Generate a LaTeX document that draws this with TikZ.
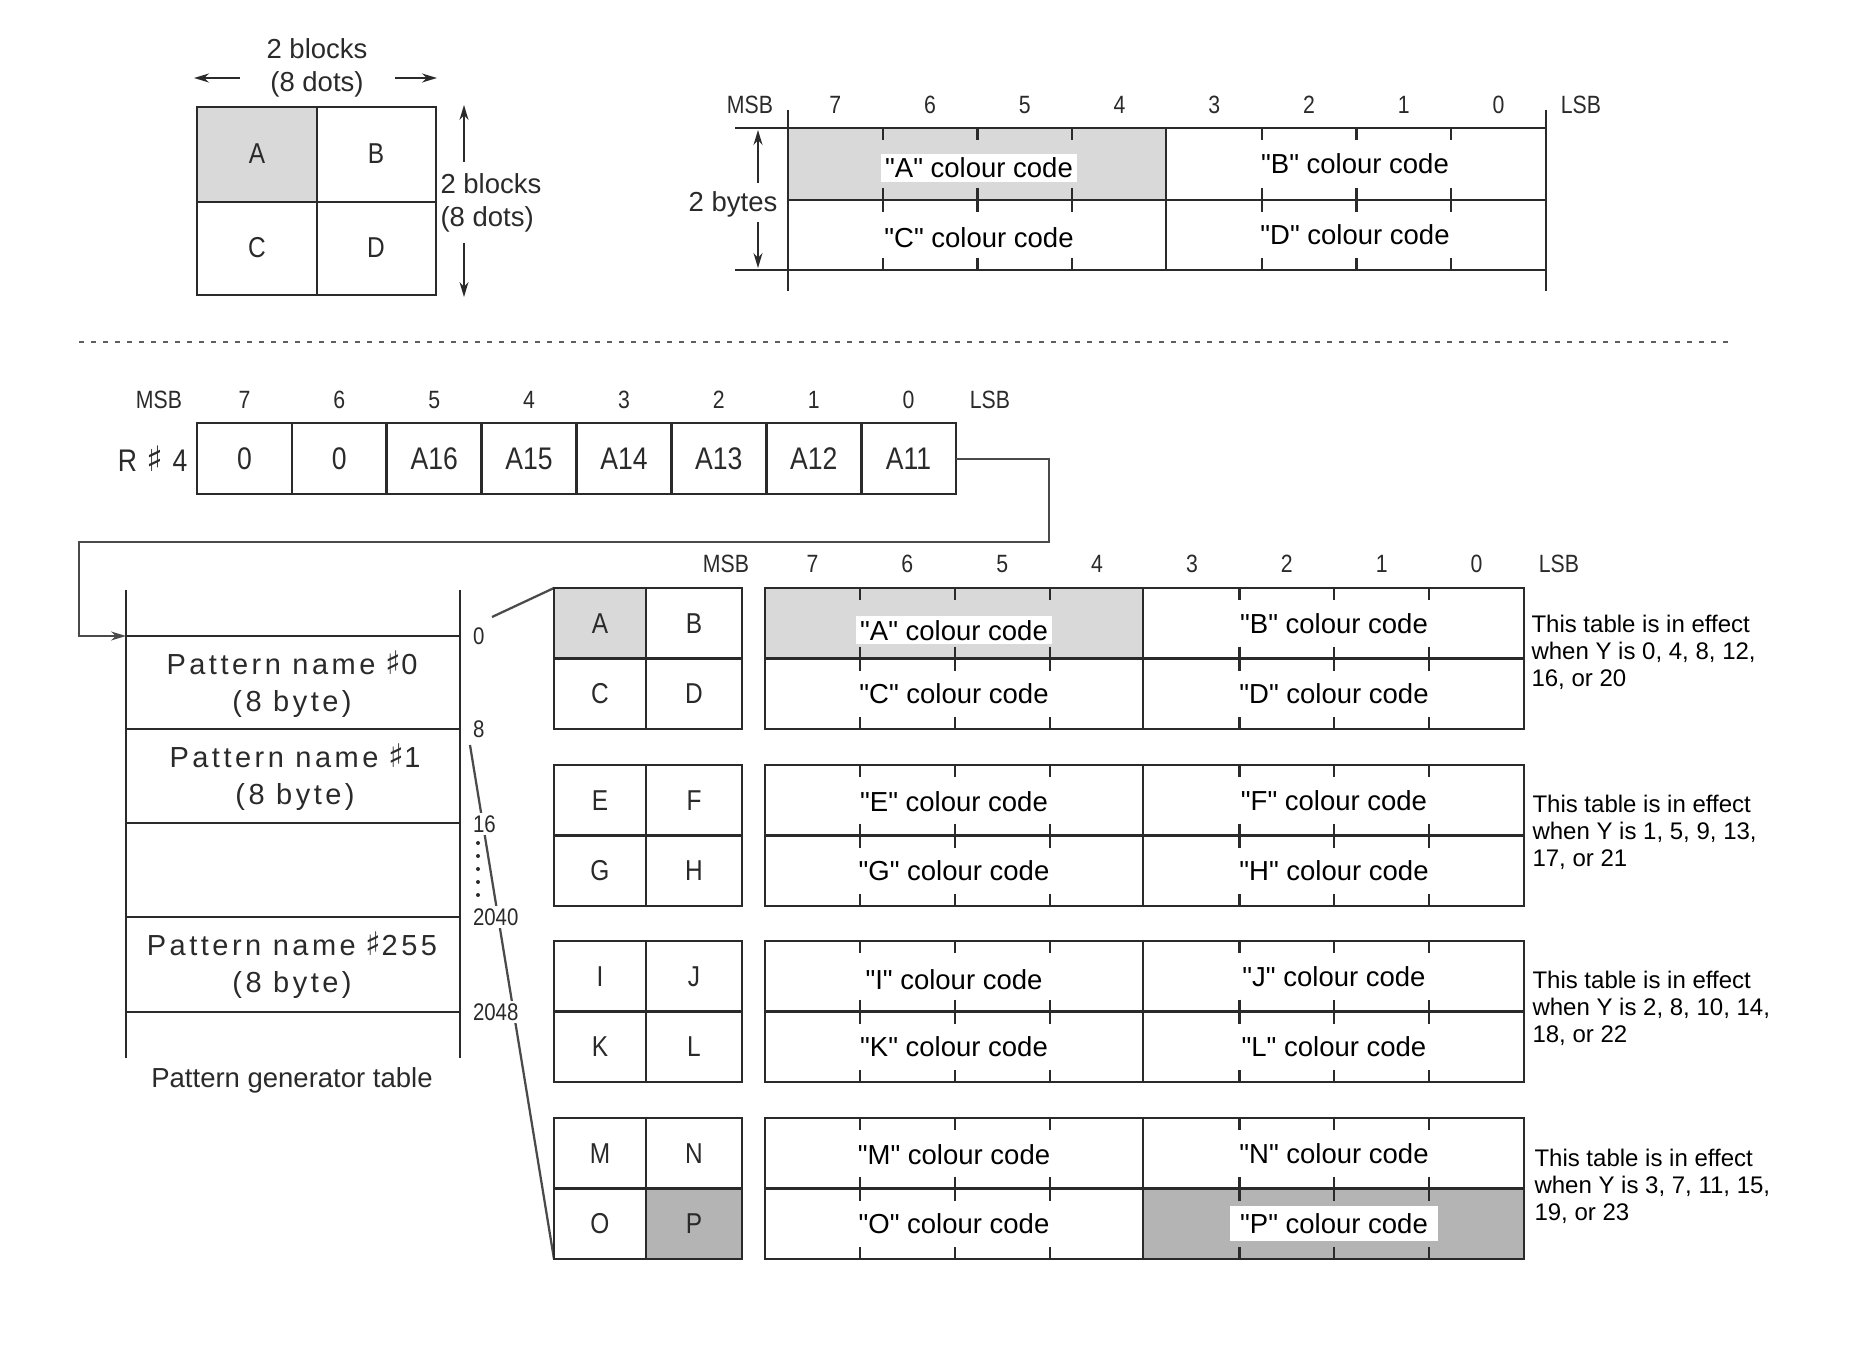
\documentclass[tikz,border=0pt]{standalone}
\usepackage{fontspec}
\setmainfont{Liberation Sans}
\newfontfamily\plainf{Liberation Sans}
\newfontfamily\scanf[FakeStretch=0.85]{Liberation Sans}
\newfontfamily\patf[LetterSpace=12]{Liberation Sans}
\newfontfamily\symf{DejaVu Sans}
\newcommand\mysharp{{\symf ♯}}
\usetikzlibrary{arrows.meta}
\definecolor{ink}{HTML}{2A2A2A}
\definecolor{shadelight}{HTML}{D9D9D9}
\definecolor{shadedark}{HTML}{B4B4B4}
\tikzset{
 tbl/.style={draw=ink, line width=1.1pt},
 tck/.style={draw=ink, line width=0.9pt},
 conn/.style={draw=ink!85, line width=0.7pt},
 dimarr/.style={draw=ink, line width=0.7pt, -{Stealth[length=6pt,width=3.6pt]}},
 ann/.style={font=\plainf\fontsize{11}{13.2}\selectfont, inner sep=0pt, text=ink},
 side/.style={font=\plainf\fontsize{9.6}{10.8}\selectfont, align=left, anchor=west, inner sep=0pt},
 hdr/.style={font=\scanf\fontsize{10}{12}\selectfont, inner sep=0pt, text=ink},
 cell/.style={font=\scanf\fontsize{11.5}{13}\selectfont, inner sep=0pt, text=ink},
 reg/.style={font=\scanf\fontsize{12.5}{14}\selectfont, inner sep=0pt, text=ink},
 pat/.style={font=\patf\fontsize{11.6}{14.8}\selectfont, align=center, inner sep=0pt, text=ink},
 addr/.style={font=\scanf\fontsize{9.6}{11}\selectfont, anchor=west, inner sep=1pt, fill=white, text=ink},
 cc/.style={font=\plainf\fontsize{11}{13.2}\selectfont, inner sep=1.5pt, fill=white},
 sepl/.style={draw=ink!75, line width=0.9pt, dash pattern=on 2pt off 2.8pt},
}
\begin{document}
\begin{tikzpicture}[x=0.4pt,y=-0.4pt]
\useasboundingbox (0,0) rectangle (1849,1372);

% ---------- top-left 2x2 block
\fill[shadelight] (197,107) rectangle (317,202);
\draw[tbl] (197,107) rectangle (436,295) (317,107) -- (317,295) (197,202) -- (436,202);
\node[cell] (tA) at (257,154) {A};
\node[cell] (tB) at (376,154) {B};
\node[cell] (tC) at (257,248) {C};
\node[cell] (tD) at (376,248) {D};
\node[ann, align=center] (hb) at (317,68) {2 blocks\\(8 dots)};
\coordinate (hl0) at (240,78); \coordinate (hl1) at (194,78);
\coordinate (hr0) at (395,78); \coordinate (hr1) at (437,78);
\draw[dimarr] (hl0) -- (hl1);
\draw[dimarr] (hr0) -- (hr1);
\node[ann, align=left, anchor=west] (vb) at (440,203) {2 blocks\\(8 dots)};
\coordinate (vu0) at (464,162); \coordinate (vu1) at (464,105);
\coordinate (vd0) at (464,243); \coordinate (vd1) at (464,297);
\draw[dimarr] (vu0) -- (vu1);
\draw[dimarr] (vd0) -- (vd1);

% ---------- top byte table
\fill[shadelight] (788,128) rectangle (1166,200);
\draw[tbl] (735,128) -- (1546,128) (788,200) -- (1546,200) (735,270) -- (1546,270)
  (788,110) -- (788,291) (1546,110) -- (1546,291) (1166,128) -- (1166,270);
\foreach \k in {1,2,3,5,6,7} {
  \pgfmathsetmacro\xx{788+\k*94.75}
  \draw[tck] (\xx,128) -- (\xx,140) (\xx,188) -- (\xx,212) (\xx,258) -- (\xx,270);
}
\node[hdr] (tmsb) at (750,105) {MSB};
\node[hdr] (tlsb) at (1581,105) {LSB};
\foreach \k/\d in {0/7,1/6,2/5,3/4,4/3,5/2,6/1,7/0}
  \node[hdr] (tb\k) at ({788+(\k+0.5)*94.75},105) {\d};
\node[cc] (tca) at (979,168) {"A" colour code};
\node[cc] (tcb) at (1355,164) {"B" colour code};
\node[cc] (tcc) at (979,238) {"C" colour code};
\node[cc] (tcd) at (1355,235) {"D" colour code};
\coordinate (bu0) at (758,183); \coordinate (bu1) at (758,130);
\coordinate (bd0) at (758,222); \coordinate (bd1) at (758,268);
\draw[dimarr] (bu0) -- (bu1);
\draw[dimarr] (bd0) -- (bd1);
\node[ann, fill=white, inner sep=1pt] (twob) at (733,204) {2 bytes};

% ---------- separator
\coordinate (sep0) at (79,342); \coordinate (sep1) at (1731,342);
\draw[sepl] (sep0) -- (sep1);

% ---------- R#4 register
\draw[tbl] (197,423) rectangle (956,494);
\foreach \k in {1,...,7} \draw[tbl] ({197+\k*94.875},423) -- ({197+\k*94.875},494);
\foreach \k/\v in {0/0,1/0,2/A16,3/A15,4/A14,5/A13,6/A12,7/A11}
  \node[reg] (r\k) at ({197+(\k+0.5)*94.875},459) {\v};
\node[hdr] (rmsb) at (159,400) {MSB};
\node[hdr] (rlsb) at (990,400) {LSB};
\foreach \k/\d in {0/7,1/6,2/5,3/4,4/3,5/2,6/1,7/0}
  \node[hdr] (rb\k) at ({197+(\k+0.5)*94.875},400) {\d};
\node[reg, anchor=east] (rlab) at (188,459) {R\hspace{0.3em}{\fontsize{14}{14}\selectfont\mysharp}\hspace{0.3em}4};

% ---------- connector to pattern generator table
\coordinate (rend) at (956,459);
\coordinate (k1) at (1049,459);
\coordinate (k2) at (1049,542);
\coordinate (k3) at (79,542);
\coordinate (k4) at (79,636);
\coordinate (ptop) at (126,636);
\draw[conn, -{Stealth[length=6pt,width=3.6pt]}] (rend) -- (k1) -- (k2) -- (k3) -- (k4) -- (ptop);

% ---------- pattern generator table
\draw[tbl] (126,590) -- (126,1058) (460,590) -- (460,1058);
\foreach \yy in {636,729,823,917,1012} \draw[tbl] (126,\yy) -- (460,\yy);
\node[pat] (p0) at (292,684) {Pattern name\hspace{0.35em}{\fontsize{13}{13}\selectfont\mysharp}0\\(8 byte)};
\node[pat] (p1) at (295,777) {Pattern name\hspace{0.35em}{\fontsize{13}{13}\selectfont\mysharp}1\\(8 byte)};
\node[pat] (p255) at (292,965) {Pattern name\hspace{0.35em}{\fontsize{13}{13}\selectfont\mysharp}255\\(8 byte)};
\node[ann] (pgt) at (292,1080) {Pattern generator table};

% zoom lines
\coordinate (z0) at (492,617);
\coordinate (z1) at (470,745);
\draw[conn, line width=0.9pt] (z0) -- (554,588);
\draw[conn, line width=0.9pt] (z1) -- (554,1259);
\draw[ink, line width=1.6pt, line cap=round, dash pattern=on 0pt off 5.2pt] (478,843) -- (478,902);
\node[addr] (a0) at (470,636) {0};
\node[addr] (a8) at (470,729) {8};
\node[addr] (a16) at (470,824) {16};
\node[addr] (a2040) at (470,917) {2040};
\node[addr] (a2048) at (470,1012) {2048};

% ---------- bottom header
\node[hdr] (bmsb) at (726,564) {MSB};
\node[hdr] (blsb) at (1559,564) {LSB};
\foreach \k/\d in {0/7,1/6,2/5,3/4,4/3,5/2,6/1,7/0}
  \node[hdr] (bb\k) at ({765+(\k+0.5)*94.875},564) {\d};

% ---------- shading bottom
\fill[shadelight] (554,588) rectangle (646,658.5);
\fill[shadelight] (765,588) rectangle (1143,658.5);
\fill[shadedark] (646,1188.5) rectangle (742,1259);
\fill[shadedark] (1143,1188.5) rectangle (1524,1259);

% ---------- four groups
\foreach \tp/\la/\lb/\lc/\ld/\nm/\off in {588/A/B/C/D/ga/7, 765/E/F/G/H/gb/1, 941/I/J/K/L/gc/3, 1118/M/N/O/P/gd/1} {
  \pgfmathsetmacro\mi{\tp+70.5}
  \pgfmathsetmacro\bt{\tp+141}
  \pgfmathsetmacro\ya{\tp+35.25}
  \pgfmathsetmacro\yb{\tp+105.75}
  \draw[tbl] (554,\tp) rectangle (742,\bt) (646,\tp) -- (646,\bt) (554,\mi) -- (742,\mi);
  \draw[tbl] (765,\tp) rectangle (1524,\bt) (1143,\tp) -- (1143,\bt) (765,\mi) -- (1524,\mi);
  \foreach \k in {1,2,3,5,6,7} {
    \pgfmathsetmacro\xx{765+\k*94.875}
    \draw[tck] (\xx,\tp) -- (\xx,\tp+12) (\xx,\mi-12) -- (\xx,\mi+12) (\xx,\bt-12) -- (\xx,\bt);
  }
  \node[cell] (\nm a) at (600,\ya) {\la};
  \node[cell] (\nm b) at (694,\ya) {\lb};
  \node[cell] (\nm c) at (600,\yb) {\lc};
  \node[cell] (\nm d) at (694,\yb) {\ld};
  \node[cc] (\nm ca) at (954,\ya+\off) {"\la" colour code};
  \node[cc] (\nm cb) at (1334,\ya) {"\lb" colour code};
  \node[cc] (\nm cc) at (954,\yb) {"\lc" colour code};
  \node[cc, inner xsep=4pt, inner ysep=3pt] (\nm cd) at (1334,\yb) {"\ld" colour code};
}

% ---------- side notes
\node[side] (s1) at (1531,652) {This table is in effect\\when Y is 0, 4, 8, 12,\\16, or 20};
\node[side] (s2) at (1532,832) {This table is in effect\\when Y is 1, 5, 9, 13,\\17, or 21};
\node[side] (s3) at (1532,1008) {This table is in effect\\when Y is 2, 8, 10, 14,\\18, or 22};
\node[side] (s4) at (1534,1186) {This table is in effect\\when Y is 3, 7, 11, 15,\\19, or 23};
\end{tikzpicture}
\end{document}
